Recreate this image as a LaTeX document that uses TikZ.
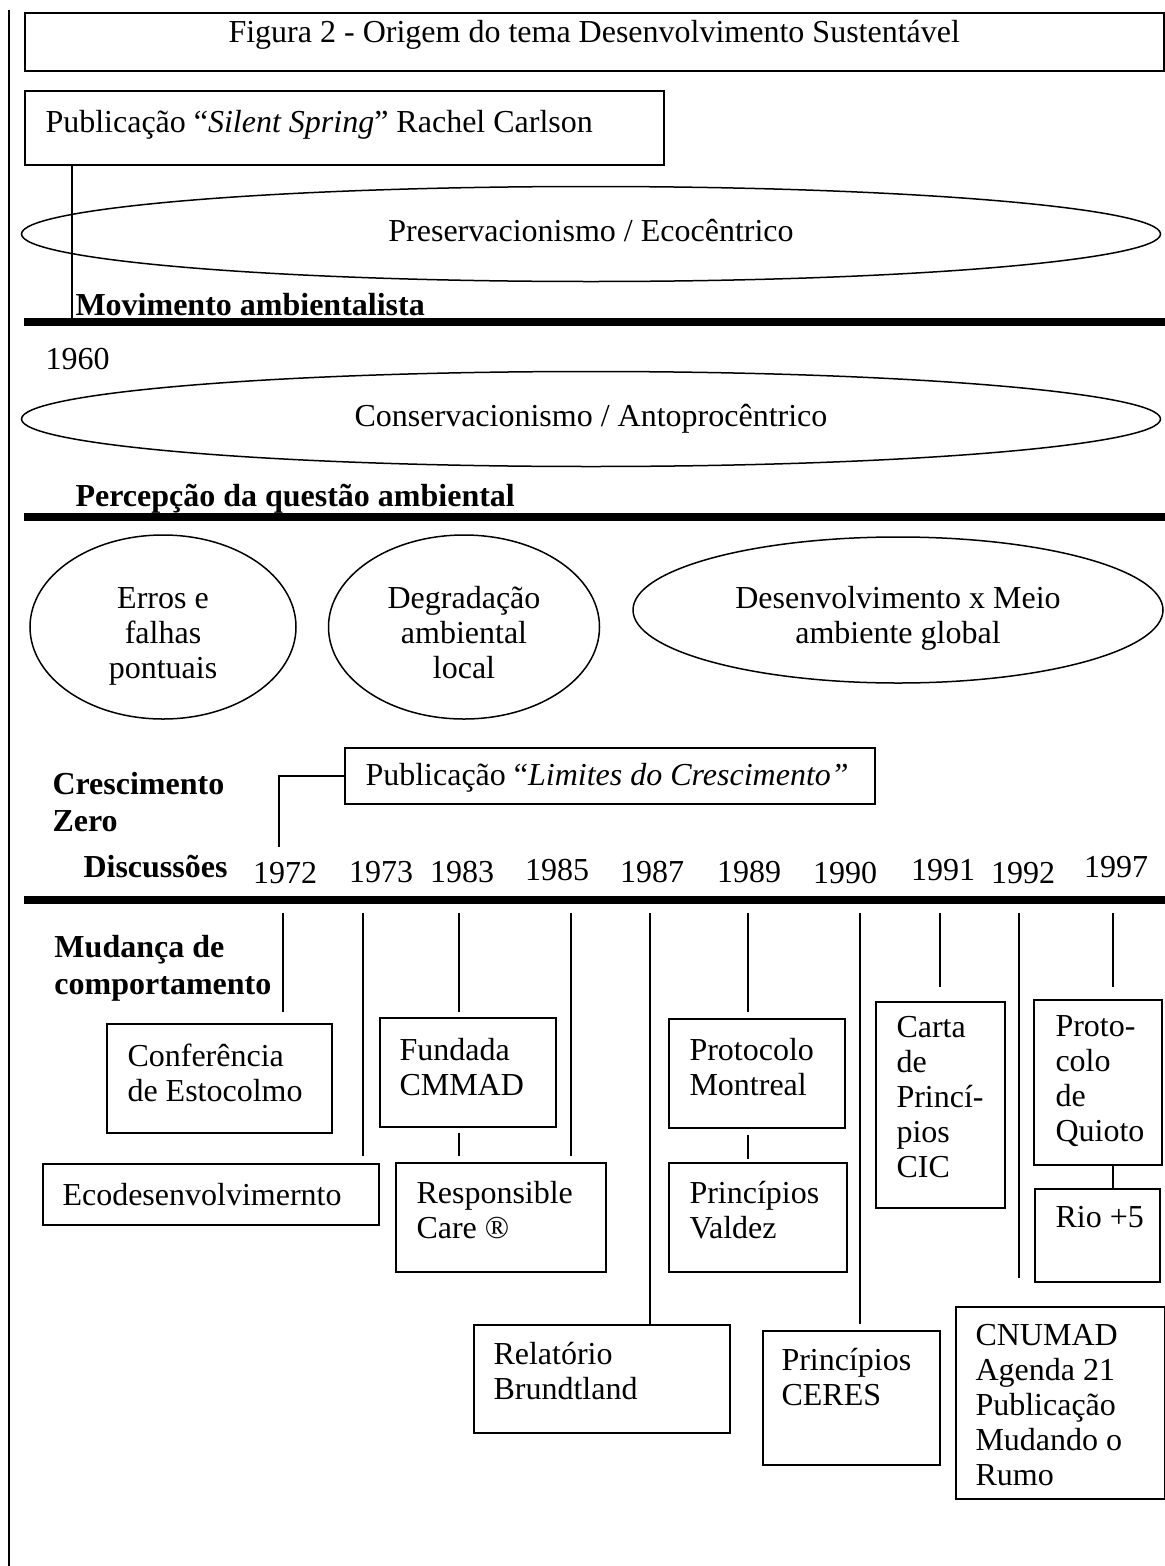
\documentclass[tikz,border=0pt]{standalone}
\usepackage{fontspec}
\setmainfont{Liberation Serif}
\usepackage{tikz}
\usetikzlibrary{positioning, shapes.geometric}
\newcommand{\ovalstrut}{\rule{0pt}{17pt}}

\begin{document}
\begin{tikzpicture}[
  x=0.4pt, y=-0.4pt,
  every node/.style={font=\fontsize{12.8}{14}\selectfont},
  evbox/.style={draw, rectangle, line width=0.6pt, anchor=north west, inner sep=0pt},
  evtxt/.style={align=left, inner sep=0pt},
  oval/.style={draw, ellipse, line width=0.6pt, inner sep=0pt, align=center,
    execute at begin node=\strut, execute at end node=\strut},
  lbl/.style={font=\fontsize{12.8}{14.8}\selectfont\bfseries, align=left, inner sep=0pt},
  year/.style={anchor=base, inner sep=0pt},
  rule/.style={line width=3pt},
  tick/.style={line width=0.6pt},
]
\useasboundingbox (0,0) rectangle (1165,1566);

% frame and title
\draw[line width=0.8pt] (9,10) -- (9,1566);
\node[evbox, minimum width=455.6pt, minimum height=23.2pt] (titlebox) at (24,12) {};
\node[below=3pt of titlebox.north, inner sep=0pt] (title) {Figura 2 - Origem do tema Desenvolvimento Sustentável};

% dividing rules
\coordinate (r1w) at (24,322);  \coordinate (r1e) at (1165,322);
\coordinate (r2w) at (24,517);  \coordinate (r2e) at (1165,517);
\coordinate (r3w) at (24,900);  \coordinate (r3e) at (1165,900);
\draw[rule] (r1w) -- (r1e);
\draw[rule] (r2w) -- (r2e);
\draw[rule] (r3w) -- (r3e);

% 1960s
\node[evbox, minimum width=255.6pt, minimum height=29.6pt] (silent) at (24,90) {};
\node[evtxt, below right=8pt and 8.4pt of silent.north west] (silentT) {Publicação “\textit{Silent Spring}” Rachel Carlson};
\coordinate (sspin) at ([xshift=19.2pt]silent.south west);
\draw[tick] (sspin) -- (sspin |- r1w);

\node[oval, minimum width=455.6pt, minimum height=38pt] (pres) at (591,234) {Preservacionismo / Ecocêntrico};
\node[lbl, anchor=base west] (movim) at (75,315) {Movimento ambientalista};
\node[anchor=base west, inner sep=0pt] (y1960) at (45,369) {1960};
\node[oval, minimum width=455.6pt, minimum height=38pt] (cons) at (591,419) {Conservacionismo / Antoprocêntrico};
\node[lbl, anchor=base west] (percep) at (75,506) {Percepção da questão ambiental};

% perception
\node[oval, minimum width=106.4pt, minimum height=73.6pt] (erros) at (163,627) {\ovalstrut Erros e\\falhas\\pontuais};
\node[oval, minimum width=108.4pt, minimum height=73.6pt] (degr) at (464,627) {\ovalstrut Degradação\\ambiental\\local};
\node[oval, minimum width=212pt, minimum height=58.4pt] (desenv) at (898,610) {\ovalstrut Desenvolvimento x Meio\\ambiente global};

% 1970s
\node[lbl, anchor=north west] (cresc) at (52,772) {Crescimento\\Zero};
\node[evbox, minimum width=212pt, minimum height=22.4pt] (limites) at (344,747) {};
\node[evtxt, below right=6.4pt and 8.4pt of limites.north west] (limitesT) {Publicação “\textit{Limites do Crescimento”}};
\coordinate (lz) at (279,847);
\draw[tick] (limites.west) -| (lz);
\node[lbl, anchor=base west] (disc) at (83,877) {Discussões};

\foreach \yr/\xx/\bl/\tx in {1972/285/883/283, 1973/381/882/363, 1983/462/882/459,
    1985/557/880/571, 1987/652/882/650, 1989/749/882/748, 1990/845/883/860,
    1991/943/880/940, 1992/1023/883/1019, 1997/1116/877/1113}{
  \node[year] (y\yr) at (\xx,\bl) {\yr};
  \coordinate (k\yr) at (\tx,913);
}

\node[lbl, anchor=north west] (mudanca) at (54,935) {Mudança de\\comportamento};

% events
\node[evbox, minimum width=90pt, minimum height=43.6pt] (conf) at (106,1023) {};
\node[evtxt, below right=8pt and 8.4pt of conf.north west] (confT) {Conferência\\de Estocolmo};
\node[evbox, minimum width=70.4pt, minimum height=43.6pt] (fund) at (379,1017) {};
\node[evtxt, below right=8.4pt and 8pt of fund.north west] (fundT) {Fundada\\CMMAD};
\node[evbox, minimum width=134.4pt, minimum height=24.4pt] (ecod) at (42,1163) {};
\node[evtxt, below right=8pt and 8pt of ecod.north west] (ecodT) {Ecodesenvolvimernto};
\node[evbox, minimum width=84pt, minimum height=43.6pt] (resp) at (395,1162) {};
\node[evtxt, below right=7.6pt and 8.4pt of resp.north west] (respT) {Responsible\\Care ®};
\node[evbox, minimum width=102.4pt, minimum height=43.2pt] (brund) at (473,1324) {};
\node[evtxt, below right=6.9pt and 8pt of brund.north west] (brundT) {Relatório\\Brundtland};
\node[evbox, minimum width=70.4pt, minimum height=43.6pt] (mont) at (668,1018) {};
\node[evtxt, below right=8pt and 8.4pt of mont.north west] (montT) {Protocolo\\Montreal};
\node[evbox, minimum width=71.2pt, minimum height=43.6pt] (valdez) at (668,1162) {};
\node[evtxt, below right=7.6pt and 8.4pt of valdez.north west] (valdezT) {Princípios\\Valdez};
\node[evbox, minimum width=70.8pt, minimum height=53.6pt] (ceres) at (762,1330) {};
\node[evtxt, below right=7.2pt and 7.6pt of ceres.north west] (ceresT) {Princípios\\CERES};
\node[evbox, minimum width=51.6pt, minimum height=82.4pt] (carta) at (875,1001) {};
\node[evtxt, below right=6pt and 8.4pt of carta.north west] (cartaT) {Carta\\de\\Princí-\\pios\\CIC};
\node[evbox, minimum width=51.2pt, minimum height=66pt] (quioto) at (1033,999) {};
\node[evtxt, below right=6.4pt and 8.8pt of quioto.north west] (quiotoT) {Proto-\\colo\\de\\Quioto};
\node[evbox, minimum width=50pt, minimum height=37.2pt] (rio) at (1034,1188) {};
\node[evtxt, below right=7.1pt and 8.4pt of rio.north west] (rioT) {Rio +5};
\node[evbox, minimum width=83.6pt, minimum height=76.8pt] (cnumad) at (955,1306) {};
\node[evtxt, below right=7.1pt and 8pt of cnumad.north west] (cnumadT) {CNUMAD\\Agenda 21\\Publicação\\Mudando o\\Rumo};

% year ticks
\draw[tick, shorten >=4.4pt] (k1972) -- (k1972 |- conf.north);
\draw[tick, shorten >=2.8pt] (k1973) -- (k1973 |- ecod.north);
\draw[tick, shorten >=2pt] (k1983) -- (k1983 |- fund.north);
\draw[tick, shorten <=2pt, shorten >=2.4pt] (k1983 |- fund.south) -- (k1983 |- resp.north);
\draw[tick, shorten >=2.4pt] (k1985) -- (k1985 |- resp.north);
\draw[tick] (k1987) -- (k1987 |- brund.north);
\draw[tick, shorten >=2.4pt] (k1989) -- (k1989 |- mont.north);
\draw[tick, shorten <=2.4pt, shorten >=1.2pt] (k1989 |- mont.south) -- (k1989 |- valdez.north);
\draw[tick, shorten >=2.4pt] (k1990) -- (k1990 |- ceres.north);
\draw[tick, shorten >=5.6pt] (k1991) -- (k1991 |- carta.north);
\draw[tick, shorten >=11.2pt] (k1992) -- (k1992 |- cnumad.north);
\draw[tick, shorten >=4.8pt] (k1997) -- (k1997 |- quioto.north);
\draw[tick] (k1997 |- quioto.south) -- (k1997 |- rio.north);

\end{tikzpicture}
\end{document}
